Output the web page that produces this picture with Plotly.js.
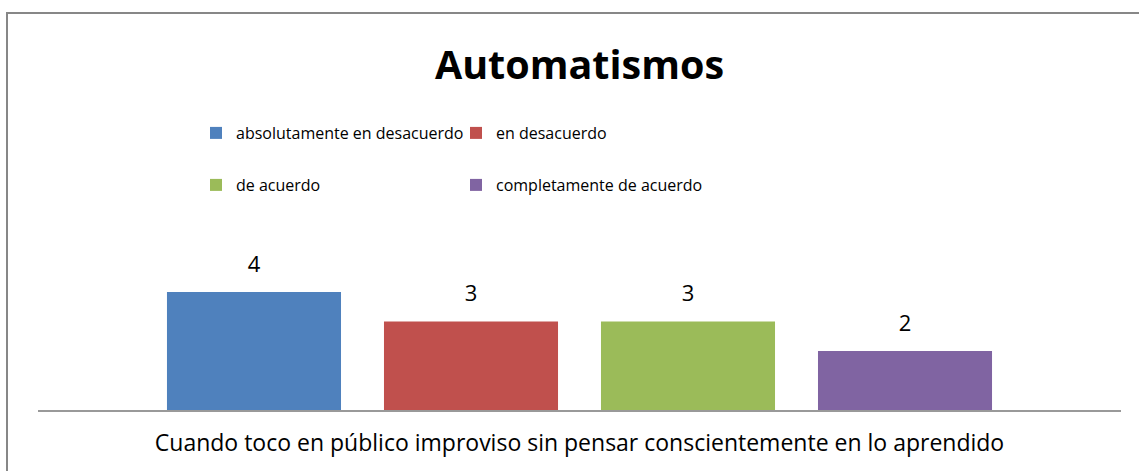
<!DOCTYPE html>
<html>
<head>
<meta charset="utf-8">
<script src="https://cdn.plot.ly/plotly-3.0.1.min.js"></script>
<style>
  html, body { margin: 0; padding: 0; background: #fff; overflow: hidden; }
  #frame { position: absolute; left: 6px; top: 12px; width: 1200px; height: 520px;
           border-left: 2px solid #878787; border-top: 2px solid #878787; pointer-events: none; z-index: 2; }
  #chart { position: absolute; left: 0; top: 0; width: 1139px; height: 471px; }
</style>
</head>
<body>
<div id="chart"></div>
<div id="frame"></div>
<script>
const chartTitle = "Automatismos";
const category = ["Cuando toco en público improviso sin pensar conscientemente en lo aprendido"];
const seriesNames = ["absolutamente en desacuerdo", "en desacuerdo", "de acuerdo", "completamente de acuerdo"];
const seriesValues = [[4], [3], [3], [2]];
const seriesColors = ["#4F81BD", "#C0504D", "#9BBB59", "#8064A2"];

const FONT = "'Open Sans', sans-serif";
const GAP = 0.1985;
const legendIds = ["legend", "legend2", "legend3", "legend4"];

const traces = [];
seriesNames.forEach((name, i) => {
  traces.push({
    type: "bar", name: name, x: category, y: seriesValues[i],
    marker: { color: seriesColors[i] },
    legend: legendIds[i], hoverinfo: "name+y"
  });
});
seriesNames.forEach((name, i) => {
  traces.push({
    type: "scatter", mode: "markers+text", name: name, x: category, y: seriesValues[i],
    text: seriesValues[i].map(String), textposition: "top center",
    textfont: { family: FONT, size: 22, color: "#000" },
    marker: { size: 22, color: "rgba(0,0,0,0)" },
    showlegend: false, hoverinfo: "skip"
  });
});

// legend placement (paper fractions of the plot area)
const legCols = [158 / 1083, 418 / 1083];
const legRows = [(410 - 133) / 177, (410 - 185) / 177];
const legendBase = {
  orientation: "h", xref: "paper", xanchor: "left", yanchor: "middle",
  font: { family: FONT, size: 16, color: "#000" }, bgcolor: "rgba(0,0,0,0)", borderwidth: 0
};

const layout = {
  width: 1139, height: 471,
  margin: { l: 38, r: 18, t: 233, b: 61, pad: 0 },
  paper_bgcolor: "rgba(0,0,0,0)", plot_bgcolor: "rgba(0,0,0,0)",
  font: { family: FONT, size: 20, color: "#000" },
  title: { text: "<b>" + chartTitle + "</b>", font: { family: FONT, size: 39.5, color: "#000" },
           x: 0.5, xref: "paper", xanchor: "center", y: 1 - 65 / 471, yanchor: "middle" },
  barmode: "group", bargap: GAP, bargroupgap: 0.198,
  scattermode: "group", scattergap: GAP,
  xaxis: { type: "category", showline: true, linecolor: "#999", linewidth: 2,
           ticks: "", ticklabelstandoff: 11, tickfont: { family: FONT, size: 23, color: "#000" },
           showgrid: false, zeroline: false, fixedrange: true },
  yaxis: { range: [0, 6], visible: false, fixedrange: true },
  showlegend: true
};
legendIds.forEach((id, i) => {
  layout[id] = Object.assign({}, legendBase, { x: legCols[i % 2], y: legRows[Math.floor(i / 2)] });
});

Plotly.newPlot("chart", traces, layout, { displayModeBar: false, staticPlot: true });
</script>
</body>
</html>
